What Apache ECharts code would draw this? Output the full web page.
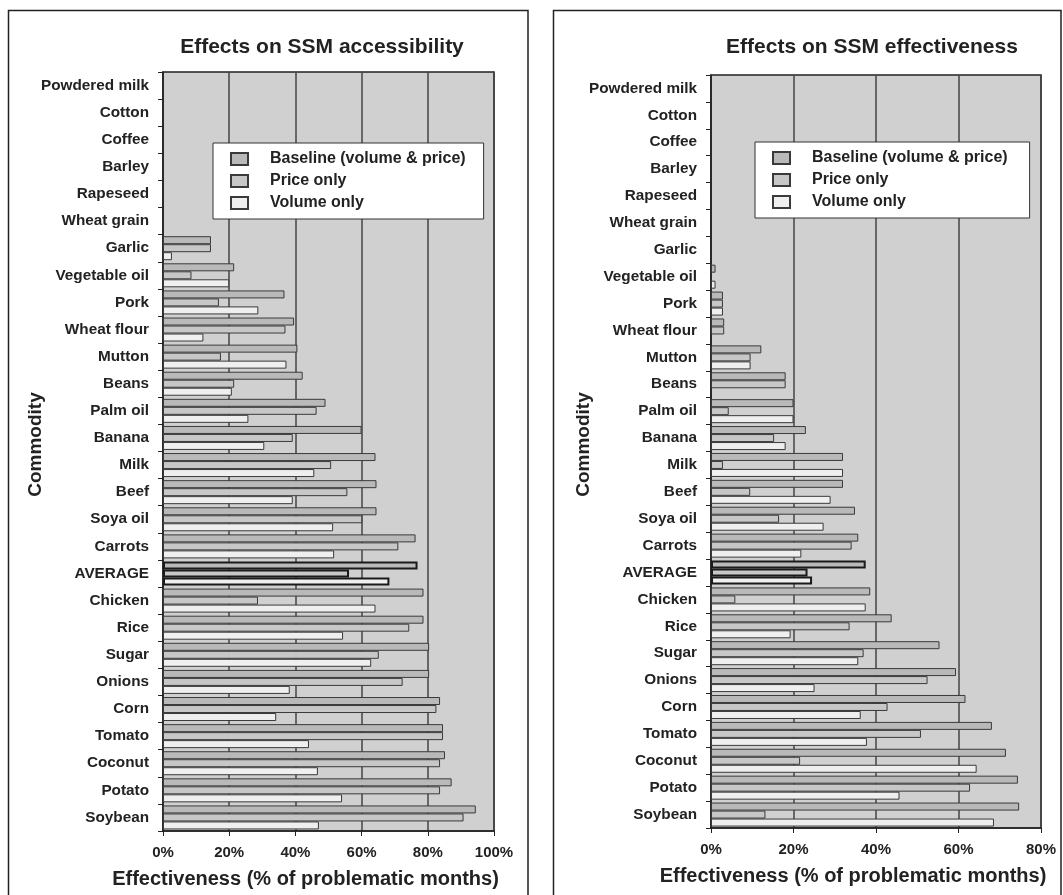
<!DOCTYPE html>
<html>
<head>
<meta charset="utf-8">
<script src="https://cdn.jsdelivr.net/npm/echarts@6/dist/echarts.min.js"></script>
<style>
html,body{margin:0;padding:0;background:#fff;}
#main{width:1063px;height:895px;}
</style>
</head>
<body>
<div id="main"></div>
<script>
// ---- data ----
const categories = ['Powdered milk','Cotton','Coffee','Barley','Rapeseed','Wheat grain','Garlic','Vegetable oil','Pork','Wheat flour','Mutton','Beans','Palm oil','Banana','Milk','Beef','Soya oil','Carrots','AVERAGE','Chicken','Rice','Sugar','Onions','Corn','Tomato','Coconut','Potato','Soybean'];
const seriesNames = ['Baseline (volume & price)','Price only','Volume only'];
const accessBaseline = [0,0,0,0,0,0,14.5,21.5,36.7,39.6,40.6,42.2,49.1,60,64.2,64.5,64.5,76.3,76.9,78.7,78.7,80.4,80.4,83.7,84.6,85.2,87.2,94.5];
const accessPrice    = [0,0,0,0,0,0,14.5,8.6,16.9,37,17.5,21.5,46.4,39.2,50.8,55.7,60.2,71.1,56.2,28.7,74.4,65.2,72.4,82.6,84.6,83.7,83.7,90.8];
const accessVolume   = [0,0,0,0,0,0,2.7,20,28.8,12.2,37.3,20.8,25.8,30.6,45.7,39.2,51.4,51.7,68.4,64.2,54.4,62.9,38.3,34.2,44.1,46.8,54.1,47.1];
const effBaseline = [0,0,0,0,0,0,0,1.1,2.9,3.2,12.2,18.1,20,23,32,32,34.9,35.7,37.5,38.6,43.8,55.4,59.4,61.7,68.1,71.5,74.4,74.7];
const effPrice    = [0,0,0,0,0,0,0,0,2.9,3.2,9.6,18.1,4.3,15.3,2.9,9.5,16.5,34.1,23.4,5.9,33.6,37,52.5,42.8,50.9,21.6,62.8,13.2];
const effVolume   = [0,0,0,0,0,0,0,1.1,2.9,0,9.6,0,20,18.1,32,29,27.3,21.9,24.5,37.5,19.3,35.7,25.1,36.3,37.8,64.4,45.7,68.6];
const leftTicksMax = 100, rightTicksMax = 80, tickStep = 20;

// ---- styles ----
const FONT = '"Liberation Sans", Arial, sans-serif';
const fills = ['#b9b9b9','#c7c7c7','#efefef'];
const TXT = '#222';

function toData(arr){
  return arr.map((v,i)=>{
    if(!v) return null;
    if(categories[i]==='AVERAGE') return {value:v, itemStyle:{borderColor:'#1a1a1a', borderWidth:2}};
    return v;
  });
}

function mkSeries(arrs, idx){
  return arrs.map((a,k)=>({
    name: seriesNames[k], type:'bar', xAxisIndex:idx, yAxisIndex:idx,
    data: toData(a), barWidth:8, barGap:'0%',
    itemStyle:{color:fills[k], borderColor:'#3a3a3a', borderWidth:1},
    emphasis:{disabled:true}, animation:false
  }));
}

function xAx(idx, max){
  return {
    gridIndex:idx, type:'value', min:0, max:max, interval:tickStep,
    axisLine:{show:true, lineStyle:{color:'#222', width:1.5}},
    axisTick:{show:true, length:5, lineStyle:{color:'#222'}},
    splitLine:{show:true, lineStyle:{color:'#444', width:1.5}},
    axisLabel:{formatter:'{value}%', fontFamily:FONT, fontWeight:'bold', fontSize:15, color:TXT, margin:14},
    name:'Effectiveness (% of problematic months)', nameLocation:'middle', nameGap:38,
    nameTextStyle:{fontFamily:FONT, fontWeight:'bold', fontSize:20, color:TXT, padding:[0,46,0,0]}
  };
}
function yAx(idx){
  return {
    gridIndex:idx, type:'category', data:categories, inverse:true,
    axisLine:{show:true, lineStyle:{color:'#222', width:1.5}},
    axisTick:{show:true, length:5, alignWithLabel:false, lineStyle:{color:'#222'}},
    axisLabel:{fontFamily:FONT, fontWeight:'bold', fontSize:15.3, color:TXT, margin:14, interval:0},
    splitLine:{show:false},
    name:'Commodity', nameLocation:'middle', nameRotate:90, nameGap:118, nameMoveOverlap:false,
    nameTextStyle:{fontFamily:FONT, fontWeight:'bold', fontSize:19, color:TXT, padding:[0,0,0,14]}
  };
}
function legendAt(left, top, pad){
  return {
    show:true, orient:'vertical', left:left, top:top, data:seriesNames,
    backgroundColor:'#fff', borderColor:'#333', borderWidth:1, padding:pad,
    itemWidth:17, itemHeight:12, itemGap:6, icon:'rect',
    textStyle:{fontFamily:FONT, fontWeight:'bold', fontSize:16, color:TXT, padding:[0,0,0,17], lineHeight:15},
    selectedMode:false
  };
}

const chart = echarts.init(document.getElementById('main'), null, {renderer:'canvas'});
chart.setOption({
  animation:false,
  backgroundColor:'#fff',
  title:[
    {text:'Effects on SSM accessibility', left:317, top:32, textAlign:'center',
     textStyle:{fontFamily:FONT, fontWeight:'bold', fontSize:21, color:TXT}},
    {text:'Effects on SSM effectiveness', left:867, top:32, textAlign:'center',
     textStyle:{fontFamily:FONT, fontWeight:'bold', fontSize:21, color:TXT}}
  ],
  legend:[ legendAt(213, 143, [8,18,8,17]), legendAt(755, 142, [8,22,8,17]) ],
  grid:[
    {left:163, top:72, width:331, height:759, show:true, backgroundColor:'#d0d0d0', borderColor:'#222', borderWidth:1.5},
    {left:711, top:75, width:330, height:753, show:true, backgroundColor:'#d0d0d0', borderColor:'#222', borderWidth:1.5}
  ],
  xAxis:[ xAx(0, leftTicksMax), xAx(1, rightTicksMax) ],
  yAxis:[ yAx(0), yAx(1) ],
  series:[].concat(
    mkSeries([accessBaseline, accessPrice, accessVolume], 0),
    mkSeries([effBaseline, effPrice, effVolume], 1)
  ),
  graphic:[
    {type:'rect', shape:{x:8.5, y:10.5, width:519.5, height:900}, style:{fill:'none', stroke:'#222', lineWidth:1.5}, silent:true},
    {type:'rect', shape:{x:553.5, y:10.5, width:507.5, height:900}, style:{fill:'none', stroke:'#222', lineWidth:1.5}, silent:true}
  ]
});
</script>
</body>
</html>
